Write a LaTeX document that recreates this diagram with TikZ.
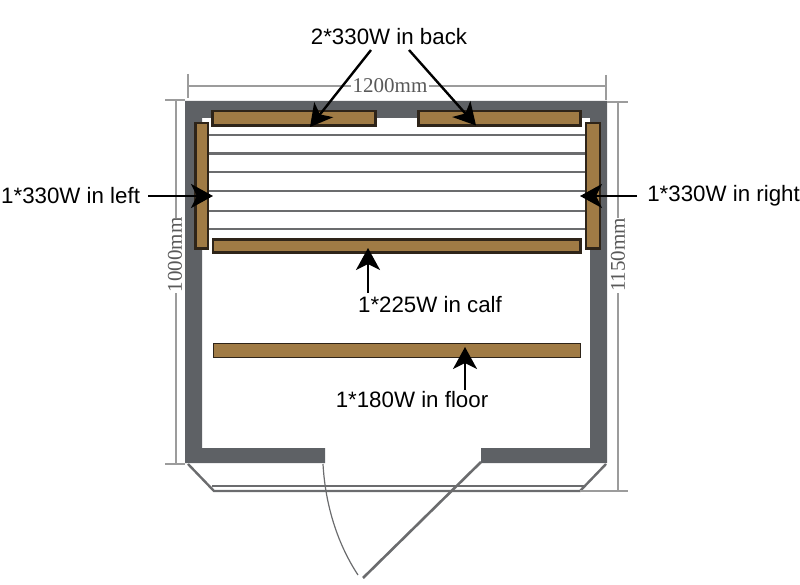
\documentclass[tikz,border=0pt]{standalone}
\usepackage{fontspec}
\setmainfont{Liberation Sans}
\newfontfamily\dimfont{Liberation Serif}
\usepackage{xcolor}
\usetikzlibrary{arrows.meta}
\definecolor{wallgray}{HTML}{5E6165}
\definecolor{slatgray}{HTML}{6B6C6E}
\definecolor{dimgray}{HTML}{9C9C9C}
\definecolor{panelbrown}{HTML}{A07B45}
\definecolor{paneledge}{HTML}{2E2419}
\tikzset{
 panel/.style={draw=paneledge, fill=panelbrown, line width=2.6pt},
 dimline/.style={draw=dimgray, line width=1.7pt},
 dimlabel/.style={text=black!65, font=\dimfont\fontsize{21}{21}\selectfont, fill=white, inner sep=1pt},
 heatlabel/.style={font=\fontsize{22.3}{22.3}\selectfont, inner sep=0pt},
 heatarrow/.style={black, line width=2.4pt, -{Stealth[length=22pt,width=24pt,inset=6pt]}},
}
\begin{document}
\begin{tikzpicture}[x=1pt,y=-1pt]
\useasboundingbox (0,0) rectangle (800,585);
% walls
\fill[wallgray] (325,463)--(185,463)--(185,101)--(607,101)--(607,463)--(481,463)--(481,448)--(590,448)--(590,118)--(202,118)--(202,448)--(325,448)--cycle;
% door front
\draw[slatgray, line width=2.4pt] (188,464)--(214,491)--(580,491)--(606,464);
\draw[slatgray, line width=2.4pt] (212,486)--(584,486);
\draw[slatgray, line width=2.6pt] (481,462)--(363,578);
\draw[slatgray, line width=1.2pt] (323,464) .. controls (325,500) and (335,540) .. (358,575);
% bench slats
\foreach \y in {135,153.5,172,191,211,229} {
 \draw[slatgray, line width=2.2pt] (208,\y)--(586,\y);
}
% heaters
\draw[panel] (212.5,111) rectangle (375.5,125.5);
\draw[panel] (418.5,111) rectangle (580.5,125.5);
\draw[panel] (195.5,123) rectangle (208,248.5);
\draw[panel] (586,123) rectangle (600,248.5);
\draw[panel] (213,239.5) rectangle (580.5,252.5);
\draw[panel, line width=1pt] (213,343.5) rectangle (580.5,357.5);
% dimensions
\draw[dimline] (188,74)--(188,98);
\draw[dimline] (606,75)--(606,100);
\node[dimlabel] (widthlabel) at (390,86) {1200mm};
\draw[dimline] (188,86)--(widthlabel);
\draw[dimline] (widthlabel)--(606,86);
\draw[dimline] (165,100)--(185,100);
\draw[dimline] (165,464)--(185,464);
\node[dimlabel, rotate=90] (depthlabel) at (175,255) {1000mm};
\draw[dimline] (176,100)--(176,218);
\draw[dimline] (176,293)--(176,464);
\draw[dimline] (607,102)--(628,102);
\draw[dimline] (580,491)--(628,491);
\node[dimlabel, rotate=90] (outerlabel) at (618,255) {1150mm};
\draw[dimline] (618,102)--(618,218);
\draw[dimline] (618,293)--(618,491);
% labels
\node[heatlabel] (backlabel) at (389,37) {2*330W in back};
\node[heatlabel, anchor=west] (leftlabel) at (1,196) {1*330W in left};
\node[heatlabel, anchor=east] (rightlabel) at (800,196) {1*330W in right};
\node[heatlabel] (calflabel) at (430,305) {1*225W in calf};
\node[heatlabel] (floorlabel) at (412,400) {1*180W in floor};
% arrow ends
\coordinate (backtipa) at (310,127);
\coordinate (backtipb) at (476,125.5);
\coordinate (backstarta) at (371,50);
\coordinate (backstartb) at (409,50);
\coordinate (lefttip) at (213,196);
\coordinate (leftstart) at (148,196);
\coordinate (righttip) at (580,196);
\coordinate (rightstart) at (637,196);
\coordinate (calftip) at (368,248);
\coordinate (calfstart) at (368,293);
\coordinate (floortip) at (465,347);
\coordinate (floorstart) at (465,390);
\draw[heatarrow] (backstarta)--(backtipa);
\draw[heatarrow] (backstartb)--(backtipb);
\draw[heatarrow] (leftstart)--(lefttip);
\draw[heatarrow] (rightstart)--(righttip);
\draw[heatarrow] (calfstart)--(calftip);
\draw[heatarrow] (floorstart)--(floortip);
\end{tikzpicture}
\end{document}
